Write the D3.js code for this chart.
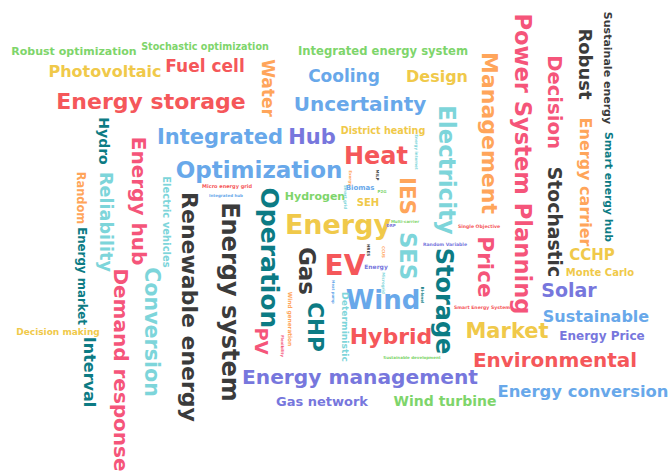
<!DOCTYPE html>
<html>
<head>
<meta charset="utf-8">
<script src="https://cdn.jsdelivr.net/npm/d3@7"></script>
<style>
  body { margin: 0; background: #fff; }
  text { font-family: "DejaVu Sans", sans-serif; font-weight: bold; }
</style>
</head>
<body>
<div id="cloud"></div>
<script>
var width = 670;
var height = 473;

// keywords, their weights and colour cluster
var words = [
  "Robust optimization", "Stochastic optimization", "Integrated energy system", "Photovoltaic",
  "Fuel cell", "Energy storage", "Cooling", "Design", "Uncertainty", "Integrated", "Hub",
  "District heating", "Heat", "Optimization", "Micro energy grid", "Hydrogen", "Energy",
  "Biomas", "SEH", "EV", "Energy", "Multi-carrier", "DRP", "Single Objective", "Random Variable",
  "Smart Energy System", "Wind", "Hybrid", "Market", "Sustainable", "Energy Price",
  "Environmental", "Energy management", "Energy conversion", "Gas network", "Wind turbine",
  "Decision making", "Sustainable development", "CCHP", "Monte Carlo", "Solar",
  "Water", "Hydro", "Energy hub", "Reliability", "Random", "Energy market", "Interval",
  "Demand response", "Conversion", "Electric vehicles", "Renewable energy", "Energy system",
  "Operation", "PV", "Wind generation", "Gas", "CHP", "Deterministic", "IES", "SES",
  "Electricity", "Storage", "Management", "Price", "Power System Planning", "Decision",
  "Stochastic", "Robust", "Sustainale energy", "Energy carrier", "Smart energy hub",
  "HRES", "P2G", "Integrated hub", "Energy internet", "Bi-level", "CCUS", "MILP",
  "Flexibility", "Heat pump", "Microgrid", "Exergy", "Smart grid"
];

var freq = [
  40, 33, 43, 65,
  70, 95, 70, 65, 85, 90, 90,
  33, 105, 100, 10, 40, 120,
  20, 35, 125, 15, 5, 5, 8, 8,
  8, 115, 95, 90, 65, 45,
  85, 86, 67, 50, 55,
  30, 5, 60, 35, 80,
  70, 55, 85, 73, 42, 44, 65,
  85, 88, 35, 95, 105,
  110, 75, 14, 100, 93, 31, 92, 98,
  99, 105, 95, 93, 98, 83,
  79, 75, 40, 65, 39,
  5, 5, 5, 5, 5, 5, 5,
  5, 4, 5, 5, 5
];

var cluster = [
  "green", "green", "green", "yellow",
  "red", "red", "blue", "yellow", "blue", "blue", "purple",
  "yellow", "red", "blue", "red", "green", "yellow",
  "blue", "yellow", "red", "purple", "green", "purple", "red", "purple",
  "red", "blue", "red", "yellow", "blue", "purple",
  "red", "purple", "blue", "purple", "green",
  "yellow", "green", "yellow", "yellow", "purple",
  "orange", "teal", "pink", "cyan", "orange", "teal", "teal",
  "pink", "cyan", "cyan", "dark", "dark",
  "teal", "pink", "orange", "dark", "teal", "cyan", "orange", "cyan",
  "cyan", "teal", "orange", "pink", "pink", "pink",
  "dark", "dark", "dark", "orange", "teal",
  "dark", "green", "blue", "cyan", "teal", "orange", "dark",
  "pink", "blue", "cyan", "orange", "cyan"
];

// where each word ended up in the cloud: centre x, centre y, rotation
var layout = [
  [74, 51, 0], [205, 47, 0], [383, 51, 0], [105, 71, 0],
  [205, 66, 0], [151, 101, 0], [344, 76, 0], [437, 76, 0], [360, 104, 0], [220, 136, 0], [312, 136, 0],
  [383, 131, 0], [376, 155, 0], [259, 170, 0], [227, 186, 0], [315, 196, 0], [338, 224, 0],
  [360, 187, 0], [368, 202, 0], [345, 265, 0], [376, 267, 0], [405, 222, 0], [391, 226, 0], [479, 226, 0], [445, 244, 0],
  [482, 307, 0], [383, 300, 0], [391, 336, 0], [507, 330, 0], [596, 316, 0], [602, 336, 0],
  [555, 360, 0], [360, 377, 0], [583, 391, 0], [322, 401, 0], [445, 401, 0],
  [58, 332, 0], [412, 358, 0], [592, 255, 0], [600, 272, 0], [569, 290, 0],
  [268, 88, 90], [104, 141, 90], [139, 201, 90], [106, 222, 90], [81, 198, 90], [82, 276, 90], [90, 372, 90],
  [121, 370, 90], [152, 332, 90], [167, 222, 90], [190, 307, 90], [231, 302, 90],
  [270, 258, 90], [261, 341, 90], [290, 319, 90], [307, 271, 90], [316, 327, 90], [345, 327, 90], [408, 196, 90], [408, 256, 90],
  [447, 170, 90], [445, 301, 90], [490, 133, 90], [486, 267, 90], [523, 164, 90], [555, 102, 90],
  [555, 222, 90], [585, 64, 90], [608, 68, 90], [586, 182, 90], [609, 187, 90],
  [368, 250, 90], [382, 192, 0], [226, 196, 0], [416, 152, 90], [422, 295, 90], [383, 252, 90], [377, 175, 90],
  [282, 346, 90], [333, 292, 90], [383, 283, 90], [350, 178, 90], [345, 197, 90]
];

var palette = d3.scaleOrdinal()
  .domain(["red", "yellow", "blue", "purple", "teal", "cyan", "pink", "orange", "dark", "green"])
  .range(["#f5575a", "#f0c94a", "#68a8ea", "#7777dd", "#0c7b84", "#7dd5da", "#f5557a", "#ffa55a", "#3b3b3b", "#7ed56b"]);

var sizeScale = d3.scaleLinear().domain([0, 125]).range([3, 28]);

var data = words.map(function(w, i) {
  return { text: w, value: freq[i], group: cluster[i], x: layout[i][0], y: layout[i][1], rotate: layout[i][2] };
});

var svg = d3.select("#cloud")
  .append("svg")
  .attr("width", width)
  .attr("height", height);

svg.append("g")
  .selectAll("text")
  .data(data)
  .enter()
  .append("text")
  .attr("text-anchor", "middle")
  .attr("dy", "0.36em")
  .attr("transform", function(d) { return "translate(" + d.x + "," + d.y + ") rotate(" + d.rotate + ")"; })
  .style("font-size", function(d) { return sizeScale(d.value) + "px"; })
  .attr("fill", function(d) { return palette(d.group); })
  .text(function(d) { return d.text; });
</script>
</body>
</html>
